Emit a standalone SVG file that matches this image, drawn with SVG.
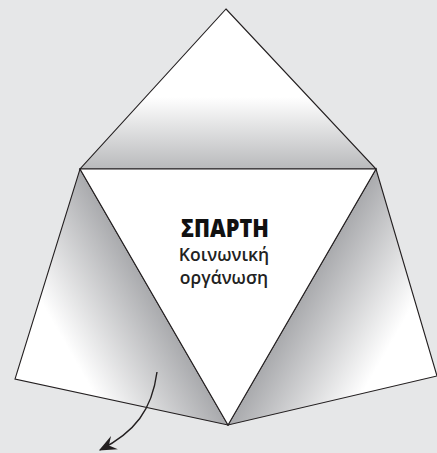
<svg xmlns="http://www.w3.org/2000/svg" width="437" height="453" viewBox="0 0 437 453">
  <style>
    .face { stroke: #231f20; stroke-width: 1.1; stroke-linejoin: miter; }
    .title { font-family: "Open Sans", "DejaVu Sans", sans-serif; font-weight: 800; font-size: 25px; fill: #111; }
    .sub { font-family: "Open Sans", "DejaVu Sans", sans-serif; font-weight: 600; font-size: 17.5px; fill: #222; }
    .conn { fill: none; stroke: #231f20; stroke-width: 1.4; }
  </style>
  <defs>
    <linearGradient id="gTop" gradientUnits="userSpaceOnUse" x1="0" y1="9" x2="0" y2="169">
      <stop offset="0" stop-color="#ffffff"/>
      <stop offset="0.55" stop-color="#ffffff"/>
      <stop offset="1" stop-color="#b9babc"/>
    </linearGradient>
    <linearGradient id="gLeft" gradientUnits="userSpaceOnUse" x1="154" y1="297" x2="67" y2="347">
      <stop offset="0" stop-color="#a9aaad"/>
      <stop offset="1" stop-color="#ffffff"/>
    </linearGradient>
    <linearGradient id="gRight" gradientUnits="userSpaceOnUse" x1="302" y1="297" x2="389" y2="347">
      <stop offset="0" stop-color="#a9aaad"/>
      <stop offset="1" stop-color="#ffffff"/>
    </linearGradient>
    <marker id="arrow" markerUnits="userSpaceOnUse" markerWidth="20" markerHeight="20" viewBox="-14 -7 16 14" refX="0" refY="0" orient="auto">
      <path d="M1,0 L-13,-6 L-8,0 L-13,6 Z" fill="#231f20"/>
    </marker>
  </defs>
  <rect width="437" height="453" fill="#e6e7e8"/>
  <g id="top-face">
    <polygon class="face" points="226,9 376,169 80,169" fill="url(#gTop)"/>
  </g>
  <g id="left-face">
    <polygon class="face" points="80,169 228,425 15,379" fill="url(#gLeft)"/>
  </g>
  <g id="right-face">
    <polygon class="face" points="376,169 437,376 228,425" fill="url(#gRight)"/>
  </g>
  <g id="center-face">
    <polygon class="face" points="80,169 376,169 228,425" fill="#ffffff"/>
    <text class="title" x="225" y="237" text-anchor="middle" textLength="88" lengthAdjust="spacingAndGlyphs">ΣΠΑΡΤΗ</text>
    <text class="sub" x="224" y="261" text-anchor="middle">Κοινωνική</text>
    <text class="sub" x="224" y="284" text-anchor="middle">οργάνωση</text>
  </g>
  <g id="connectors">
    <path class="conn" d="M157,372 C152,410 135,432 100,450" marker-end="url(#arrow)"/>
  </g>
</svg>
